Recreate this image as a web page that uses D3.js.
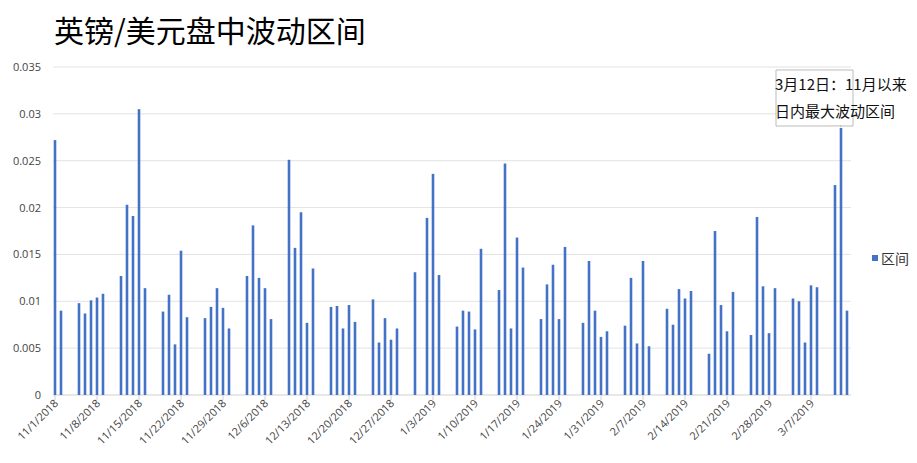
<!DOCTYPE html>
<html><head><meta charset="utf-8">
<script src="https://cdn.jsdelivr.net/npm/d3@7"></script>
<style>body{margin:0;background:#fff}</style></head>
<body><svg id="c" width="917" height="463"></svg>
<script>
const dates = ["2018-11-01","2018-11-02",
"2018-11-05","2018-11-06","2018-11-07","2018-11-08","2018-11-09",
"2018-11-12","2018-11-13","2018-11-14","2018-11-15","2018-11-16",
"2018-11-19","2018-11-20","2018-11-21","2018-11-22","2018-11-23",
"2018-11-26","2018-11-27","2018-11-28","2018-11-29","2018-11-30",
"2018-12-03","2018-12-04","2018-12-05","2018-12-06","2018-12-07",
"2018-12-10","2018-12-11","2018-12-12","2018-12-13","2018-12-14",
"2018-12-17","2018-12-18","2018-12-19","2018-12-20","2018-12-21",
"2018-12-24","2018-12-25","2018-12-26","2018-12-27","2018-12-28",
"2018-12-31","2019-01-02","2019-01-03","2019-01-04",
"2019-01-07","2019-01-08","2019-01-09","2019-01-10","2019-01-11",
"2019-01-14","2019-01-15","2019-01-16","2019-01-17","2019-01-18",
"2019-01-21","2019-01-22","2019-01-23","2019-01-24","2019-01-25",
"2019-01-28","2019-01-29","2019-01-30","2019-01-31","2019-02-01",
"2019-02-04","2019-02-05","2019-02-06","2019-02-07","2019-02-08",
"2019-02-11","2019-02-12","2019-02-13","2019-02-14","2019-02-15",
"2019-02-18","2019-02-19","2019-02-20","2019-02-21","2019-02-22",
"2019-02-25","2019-02-26","2019-02-27","2019-02-28","2019-03-01",
"2019-03-04","2019-03-05","2019-03-06","2019-03-07","2019-03-08",
"2019-03-11","2019-03-12","2019-03-13"];
const values = [0.0272,0.0090,
0.0098,0.0087,0.0101,0.0104,0.0108,
0.0127,0.0203,0.0191,0.0305,0.0114,
0.0089,0.0107,0.0054,0.0154,0.0083,
0.0082,0.0094,0.0114,0.0093,0.0071,
0.0127,0.0181,0.0125,0.0114,0.0081,
0.0251,0.0157,0.0195,0.0077,0.0135,
0.0094,0.0095,0.0071,0.0096,0.0078,
0.0102,0.0056,0.0082,0.0059,0.0071,
0.0131,0.0189,0.0236,0.0128,
0.0073,0.0090,0.0089,0.0070,0.0156,
0.0112,0.0247,0.0071,0.0168,0.0136,
0.0081,0.0118,0.0139,0.0081,0.0158,
0.0077,0.0143,0.0090,0.0062,0.0068,
0.0074,0.0125,0.0055,0.0143,0.0052,
0.0092,0.0075,0.0113,0.0103,0.0111,
0.0044,0.0175,0.0096,0.0068,0.0110,
0.0064,0.0190,0.0116,0.0066,0.0114,
0.0103,0.0100,0.0056,0.0117,0.0115,
0.0224,0.0285,0.0090];
const tickDates = ["2018-11-01","2018-11-08","2018-11-15","2018-11-22","2018-11-29","2018-12-06","2018-12-13","2018-12-20","2018-12-27","2019-01-03","2019-01-10","2019-01-17","2019-01-24","2019-01-31","2019-02-07","2019-02-14","2019-02-21","2019-02-28","2019-03-07"];
const yTicks = [0,0.005,0.01,0.015,0.02,0.025,0.03,0.035];
const title = "英镑/美元盘中波动区间";
const seriesName = "区间";
const note = ["3月12日：11月以来","日内最大波动区间"];

const p = d3.utcParse("%Y-%m-%d");
const fmt = d=>`${d.getUTCMonth()+1}/${d.getUTCDate()}/${d.getUTCFullYear()}`;
const svg = d3.select("#c");
const font = "'Open Sans','Noto Sans CJK SC',sans-serif";
const x = d3.scaleUtc().domain([p("2018-11-01"),p("2019-03-07")]).range([55,811]);
const y = d3.scaleLinear().domain([0,0.035]).range([395,67]);
const L=53,R=851;

svg.append("text").attr("x",54).attr("y",42).attr("font-size",30).attr("font-family","'Noto Sans CJK SC',sans-serif").text(title);

svg.append("g").selectAll("line").data(yTicks).join("line")
 .attr("x1",L).attr("x2",R).attr("y1",d=>y(d)).attr("y2",d=>y(d))
 .attr("stroke",d=>d===0?"#d0d0d0":"#e3e3e3").attr("stroke-width",1);
svg.append("g").selectAll("text").data(yTicks).join("text")
 .attr("x",41).attr("y",d=>y(d)+4).attr("text-anchor","end").attr("font-size",11)
 .attr("font-family",font).attr("fill","#444").text(d=>d===0?"0":d3.format(".3~f")(d));

svg.append("g").selectAll("line").data(tickDates).join("line")
 .attr("x1",d=>x(p(d))).attr("x2",d=>x(p(d))).attr("y1",395).attr("y2",400).attr("stroke","#d0d0d0");
svg.append("g").selectAll("text").data(tickDates).join("text")
 .attr("transform",d=>`translate(${x(p(d))+4},${404}) rotate(-45)`)
 .attr("text-anchor","end").attr("font-size",11).attr("font-family",font).attr("fill","#444")
 .text(d=>fmt(p(d)));

svg.append("g").selectAll("rect").data(dates.map((d,i)=>({d:p(d),v:values[i]}))).join("rect")
 .attr("x",d=>x(d.d)-1.3).attr("width",2.6).attr("y",d=>y(d.v)).attr("height",d=>395-y(d.v))
 .attr("fill","#4472c4");

svg.append("rect").attr("x",872).attr("y",255).attr("width",6).attr("height",6).attr("fill","#4472c4");
svg.append("text").attr("x",881).attr("y",264).attr("font-size",14).attr("font-family",font).attr("fill","#333").text(seriesName);

const tx=x(p("2019-03-12")), ty=y(0.0285);
svg.append("path").attr("d",`M776,70 H853 V126 H840 L${tx},${ty-2} L820,126 H776 Z`)
 .attr("fill","#fff").attr("stroke","#bbb");
note.forEach((t,i)=>svg.append("text").attr("x",775).attr("y",90+i*27).attr("font-size",15)
 .attr("font-family","'Noto Sans CJK SC',sans-serif").attr("fill","#111").text(t));
</script></body></html>
